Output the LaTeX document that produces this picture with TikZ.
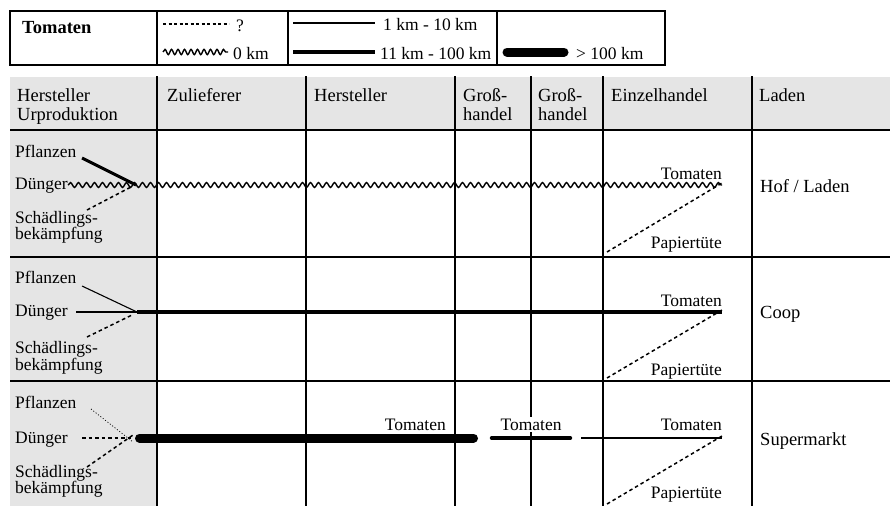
\documentclass[tikz,border=0pt]{standalone}
\usepackage{fontspec}
\setmainfont{Liberation Serif}
\usetikzlibrary{decorations.pathmorphing}
\definecolor{hdrgray}{gray}{0.9}
\tikzset{
  lbl/.style={font=\fontsize{17.5}{19}\selectfont, inner sep=0pt},
  hdr/.style={font=\fontsize{18.5}{20}\selectfont, inner sep=0pt, anchor=base west},
  leg/.style={font=\fontsize{17.5}{19}\selectfont, inner sep=0pt, anchor=base west},
  thinl/.style={line width=1.1pt},
  medl/.style={line width=3.4pt, line cap=round},
  thickl/.style={line width=9pt, line cap=round},
  wavy/.style={decorate, decoration={snake, amplitude=2.4pt, segment length=8pt}, line width=1.4pt},
  dashl/.style={line width=1.5pt, dash pattern=on 3.5pt off 3pt},
  dotl/.style={line width=0.8pt, dash pattern=on 1pt off 2pt},
  legdot/.style={line width=1.9pt, dash pattern=on 3pt off 2.5pt},
  gridv/.style={line width=1.8pt},
  gridh/.style={line width=2.4pt},
}
\begin{document}
\begin{tikzpicture}[x=1pt,y=-1pt]
\useasboundingbox (0,0) rectangle (890,506);
% ---------- legend ----------
\draw[line width=1.6pt] (10,11) rectangle (665,65);
\draw[line width=1.6pt] (157,11) -- (157,65) (288,11) -- (288,65) (497,11) -- (497,65);
\node[leg, font=\fontsize{18.5}{19}\selectfont\bfseries] (legT) at (22,33) {Tomaten};
\coordinate (ld1) at (163,24); \coordinate (ld2) at (229,24);
\draw[legdot] (ld1) -- (ld2);
\node[leg] (legQ) at (236,31) {?};
\coordinate (lw1) at (163,52); \coordinate (lw2) at (228,52);
\draw[wavy, decoration={snake, amplitude=2.6pt, segment length=6.5pt}] (lw1) -- (lw2);
\node[leg] (leg0) at (233,59) {0 km};
\coordinate (lt1) at (293,23); \coordinate (lt2) at (375,23);
\draw[thinl] (lt1) -- (lt2);
\node[leg] (leg1) at (383,30) {1 km - 10 km};
\coordinate (lm1) at (293,52); \coordinate (lm2) at (375,52);
\draw[line width=3.4pt] (lm1) -- (lm2);
\node[leg] (leg11) at (380,59) {11 km - 100 km};
\coordinate (lk1) at (507,52); \coordinate (lk2) at (564,52);
\draw[thickl] (lk1) -- (lk2);
\node[leg] (leg100) at (576,59) {> 100 km};
% ---------- table background ----------
\fill[hdrgray] (10,77) rectangle (890,130);
\fill[hdrgray] (10,130) rectangle (156,506);
% header texts
\node[hdr] (h1a) at (17,101) {Hersteller};
\node[hdr] (h1b) at (17,120) {Urproduktion};
\node[hdr] (h2) at (167,101) {Zulieferer};
\node[hdr] (h3) at (314,101) {Hersteller};
\node[hdr] (h4a) at (463,101) {Groß-};
\node[hdr] (h4b) at (463,120) {handel};
\node[hdr] (h5a) at (538,101) {Groß-};
\node[hdr] (h5b) at (538,120) {handel};
\node[hdr] (h6) at (611,101) {Einzelhandel};
\node[hdr] (h7) at (759,101) {Laden};
% grid
\foreach \x in {157,306,455,531,603,752}{\draw[gridv] (\x,76) -- (\x,506);}
\foreach \y in {130,257,381}{\draw[gridh] (10,\y) -- (890,\y);}
% ---------- row 1 ----------
\node[lbl, anchor=base west] (p1) at (15,157) {Pflanzen};
\node[lbl, anchor=base west] (d1) at (15,189.5) {Dünger};
\node[lbl, anchor=base west] (s1a) at (15,223) {Schädlings-};
\node[lbl, anchor=base west] (s1b) at (15,239.5) {bekämpfung};
\coordinate (j1) at (136,185);
\coordinate (p1e) at (82,158);
\coordinate (d1e) at (68,185);
\coordinate (s1e) at (87,210);
\coordinate (e1) at (722,185);
\coordinate (b1) at (607,252);
\draw[line width=3pt] (p1e) -- (j1);
\draw[wavy] (d1e) -- (e1);
\draw[dashl] (s1e) -- ([shift={(-5,2)}]j1);
\draw[dashl] (b1) -- ([yshift=2]e1);
\node[lbl, anchor=base east] (t1) at (722,179) {Tomaten};
\node[lbl, anchor=base east] (pt1) at (722,248) {Papiertüte};
\node[hdr] (l1) at (760,192) {Hof / Laden};
% ---------- row 2 ----------
\node[lbl, anchor=base west] (p2) at (15,283) {Pflanzen};
\node[lbl, anchor=base west] (d2) at (15,316.5) {Dünger};
\node[lbl, anchor=base west] (s2a) at (15,353.5) {Schädlings-};
\node[lbl, anchor=base west] (s2b) at (15,370) {bekämpfung};
\coordinate (j2) at (137,312);
\coordinate (p2e) at (82,286);
\coordinate (d2e) at (76,312);
\coordinate (s2e) at (87,337);
\coordinate (e2) at (722,312);
\coordinate (b2) at (607,378);
\draw[thinl] (p2e) -- (j2);
\draw[thinl] (d2e) -- (j2);
\draw[dashl] (s2e) -- ([shift={(-5,3)}]j2);
\draw[line width=3.4pt] (j2) -- (e2);
\draw[dashl] (b2) -- ([yshift=2]e2);
\node[lbl, anchor=base east] (t2) at (722,306) {Tomaten};
\node[lbl, anchor=base east] (pt2) at (722,375) {Papiertüte};
\node[hdr] (l2) at (760,318) {Coop};
% ---------- row 3 ----------
\node[lbl, anchor=base west] (p3) at (15,408) {Pflanzen};
\node[lbl, anchor=base west] (d3) at (15,443) {Dünger};
\node[lbl, anchor=base west] (s3a) at (15,477) {Schädlings-};
\node[lbl, anchor=base west] (s3b) at (15,493.5) {bekämpfung};
\coordinate (j3) at (133,438);
\coordinate (p3e) at (91,409);
\coordinate (d3e) at (82,438);
\coordinate (s3e) at (87,467);
\coordinate (k3a) at (139.5,438);
\coordinate (k3b) at (473.5,438);
\coordinate (m3a) at (491.5,438);
\coordinate (m3b) at (570.5,438);
\coordinate (n3a) at (581,438);
\coordinate (e3) at (722,438);
\coordinate (b3) at (607,504);
\draw[dotl] (p3e) -- ([yshift=-4]j3);
\draw[dashl] (d3e) -- (j3);
\draw[dashl] (s3e) -- ([yshift=3]j3);
\draw[thickl] (k3a) -- (k3b);
\node[lbl, anchor=base east] (t3a) at (446,430) {Tomaten};
\node[lbl, anchor=base, fill=white, inner xsep=1pt, inner ysep=2pt] (t3b) at (531,430) {Tomaten};
\draw[medl] (m3a) -- (m3b);
\draw[thinl] (n3a) -- (e3);
\draw[dashl] (b3) -- ([yshift=2]e3);
\node[lbl, anchor=base east] (t3c) at (722,430) {Tomaten};
\node[lbl, anchor=base east] (pt3) at (722,498) {Papiertüte};
\node[hdr] (l3) at (760,445) {Supermarkt};
\end{tikzpicture}
\end{document}
